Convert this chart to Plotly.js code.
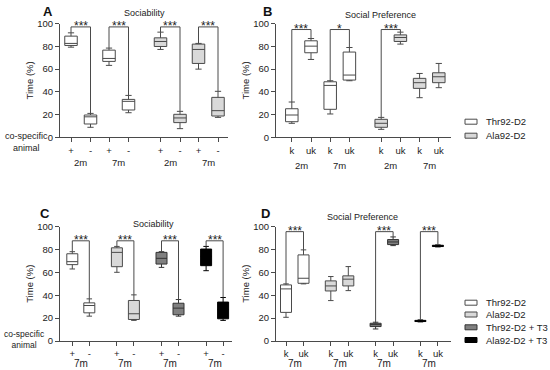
<!DOCTYPE html>
<html><head><meta charset="utf-8">
<script src="https://cdn.plot.ly/plotly-3.0.1.min.js"></script>
<style>html,body{margin:0;padding:0;background:#fff}#chart{width:550px;height:370px}</style>
</head><body><div id="chart"></div>
<script>
// Box statistics: [lowerfence, q1, median, q3, upperfence]
const seriesNames = ['Thr92-D2', 'Ala92-D2', 'Thr92-D2 + T3', 'Ala92-D2 + T3'];
const sidesSoc = ['+', '-'];
const sidesPref = ['k', 'uk'];
const agesAB = ['2m', '7m'];
const ageCD = '7m';

// Panel A – Sociability (order: 2m +, 2m -, 7m +, 7m -)
const A_thr = [[79.2, 80.7, 82.5, 88.9, 91.8], [8.8, 11.7, 18, 19.6, 21], [63.2, 66.7, 69.3, 76.6, 78.4], [21.6, 24, 31.6, 33.3, 36.8]];
const A_ala = [[77.2, 79.8, 84.2, 87.4, 92.4], [7.6, 12.9, 17, 20.2, 22.8], [59.9, 64.9, 77.2, 81.9, 82.5], [17.5, 18.7, 23.4, 35.1, 40.4]];
// Panel B – Social Preference (order: 2m k, 2m uk, 7m k, 7m uk)
const B_thr = [[12.3, 13.7, 19.6, 25.1, 31], [68.4, 74.3, 80.1, 84.8, 86.8], [20.5, 24.6, 45.6, 48.8, 49.7], [49.7, 50.3, 54.7, 74.9, 78.9]];
const B_ala = [[7, 8.8, 12.3, 15.8, 17.5], [81.9, 84.2, 87.7, 90, 92.4], [34.8, 43, 48, 51.8, 56.1], [43.6, 48, 53.2, 56.7, 64.9]];
// Panel C – Sociability at 7m (order: +, -)
const C_thr = [[62.9, 66.7, 69.3, 76.2, 78], [21.7, 24.6, 31, 33.3, 36.8]];
const C_ala = [[60, 64.9, 77.4, 81.4, 82.6], [18, 18.8, 23.8, 35.4, 40.3]];
const C_thrT3 = [[64.3, 67.2, 72.2, 77.4, 78], [21.7, 22.9, 28.7, 33, 36.2]];
const C_alaT3 = [[61.4, 65.8, 74, 80.3, 82.6], [18, 19.4, 27.5, 34, 38]];
// Panel D – Social Preference at 7m (order: k, uk)
const D_thr = [[20.7, 25, 45.5, 49, 49.9], [49.9, 50.4, 54.8, 75.2, 79.6]];
const D_ala = [[35.3, 43.7, 48.1, 52.5, 56.3], [44, 48.1, 54, 56.9, 65]];
const D_thrT3 = [[10.5, 12.6, 14.3, 15.5, 16.4], [83.3, 84.2, 86.5, 88.6, 90.9]];
const D_alaT3 = [[16.7, 17, 17.5, 18, 18.4], [82.2, 82.5, 83, 83.6, 83.9]];
// Significance brackets: [box a, box b, label] (box index in panel order)
const A_sig = [[0, 1, '***'], [2, 3, '***'], [4, 5, '***'], [6, 7, '***']];
const B_sig = [[0, 1, '***'], [2, 3, '*'], [4, 5, '***']];
const C_sig = [[0, 1, '***'], [2, 3, '***'], [4, 5, '***'], [6, 7, '***']];
const D_sig = [[0, 1, '***'], [4, 5, '***'], [6, 7, '***']];

// ---- styling / geometry ----
const W = 550, H = 370;
const FONT = 'Liberation Sans, Arial, sans-serif';
const TXT = '#222', LINE = '#4a4a4a';
const fills = ['#ffffff', '#d9d9d9', '#808080', '#000000'];
const lines = [LINE, LINE, '#333333', '#000000'];
const X = px => px / W, Y = py => 1 - py / H;
const C = {xanchor: 'center', yanchor: 'middle', showarrow: false};

const panels = [
  {key: '', letter: 'A', title: 'Sociability', px: [60, 228], py: [23.5, 137.3], off: 11, S: 19.5, P: 38, G: 89.5, bw: 12.5, sigY: 97,
   series: [A_thr, A_ala], sides: sidesSoc, ages: agesAB, sig: A_sig, letterPos: [48, 11], titlePos: [144, 13], agesY: 163},
  {key: '2', letter: 'B', title: 'Social Preference', px: [276, 451], py: [23.5, 137.3], off: 15.8, S: 19.2, P: 38.4, G: 89.4, bw: 12.5, sigY: 94.7,
   series: [B_thr, B_ala], sides: sidesPref, ages: agesAB, sig: B_sig, letterPos: [267, 11], titlePos: [380, 14.5], agesY: 165},
  {key: '3', letter: 'C', title: 'Sociability', px: [60, 232], py: [226.5, 341], off: 12.3, S: 17, P: 0, G: 44.6, bw: 11, sigY: 87.5,
   series: [C_thr, C_ala, C_thrT3, C_alaT3], sides: sidesSoc, ages: null, sig: C_sig, letterPos: [45, 213], titlePos: [153, 223.5], agesY: 363},
  {key: '4', letter: 'D', title: 'Social Preference', px: [276, 451], py: [226.5, 341], off: 10, S: 17.5, P: 0, G: 44.8, bw: 11, sigY: 95.5,
   series: [D_thr, D_ala, D_thrT3, D_alaT3], sides: sidesPref, ages: null, sig: D_sig, letterPos: [265, 213], titlePos: [362, 217], agesY: 363},
];

const traces = [], shapes = [], annotations = [];
const layout = {
  width: W, height: H, margin: {l: 0, r: 0, t: 0, b: 0},
  paper_bgcolor: '#fff', plot_bgcolor: 'rgba(0,0,0,0)',
  boxmode: 'overlay', showlegend: false,
  font: {family: FONT, color: TXT, size: 9},
  shapes, annotations
};

panels.forEach(p => {
  const xa = 'x' + p.key, ya = 'y' + p.key;
  const positions = [], ticktext = [], fences = [];
  p.series.forEach((ser, g) => {
    const xs = ser.map((_, i) => {
      const pair = p.ages ? Math.floor(i / 2) : 0;
      const side = i % 2;
      return p.off + g * p.G + pair * p.P + side * p.S;
    });
    xs.forEach((x, i) => { positions.push(x); ticktext.push(p.sides[i % 2]); fences.push([x, ser[i][4]]); });
    traces.push({
      type: 'box', xaxis: xa, yaxis: ya, x: xs,
      lowerfence: ser.map(s => s[0]), q1: ser.map(s => s[1]), median: ser.map(s => s[2]),
      q3: ser.map(s => s[3]), upperfence: ser.map(s => s[4]),
      width: p.bw, whiskerwidth: 0.5, boxpoints: false,
      fillcolor: fills[g], line: {color: lines[g], width: 1},
      name: seriesNames[g], hoverinfo: 'skip', showlegend: false
    });
    if (p.ages) {
      p.ages.forEach((age, k) => annotations.push(Object.assign({
        xref: xa, yref: 'paper', x: (xs[2 * k] + xs[2 * k + 1]) / 2, y: Y(p.agesY),
        text: age, font: {size: 9.5, family: FONT, color: TXT}}, C)));
    } else {
      annotations.push(Object.assign({
        xref: xa, yref: 'paper', x: (xs[0] + xs[1]) / 2, y: Y(p.agesY),
        text: ageCD, font: {size: 10, family: FONT, color: TXT}}, C));
    }
  });
  layout['xaxis' + p.key] = {
    domain: [X(p.px[0]), X(p.px[1])], range: [0, p.px[1] - p.px[0]], anchor: ya,
    showline: true, linecolor: LINE, linewidth: 1, showgrid: false, zeroline: false,
    ticks: 'outside', ticklen: 4, tickcolor: LINE, tickvals: positions, ticktext,
    tickfont: {size: 9.5, family: FONT, color: TXT}, fixedrange: true
  };
  layout['yaxis' + p.key] = {
    domain: [Y(p.py[1]), Y(p.py[0])], range: [0, 100], anchor: xa,
    showline: true, linecolor: LINE, linewidth: 1, showgrid: false, zeroline: false,
    ticks: 'outside', ticklen: 4, tickcolor: LINE, tickvals: [0, 20, 40, 60, 80, 100],
    tickfont: {size: 9.5, family: FONT, color: TXT}, fixedrange: true,
    title: {text: 'Time (%)', font: {size: 9.5, family: FONT, color: TXT}, standoff: 1}
  };
  p.sig.forEach(([a, b, lab]) => {
    const [xa1, ya1] = fences[a], [xb1, yb1] = fences[b];
    shapes.push({type: 'path', xref: xa, yref: ya,
      path: `M ${xa1},${ya1} L ${xa1},${p.sigY} L ${xb1},${p.sigY} L ${xb1},${yb1}`,
      line: {color: LINE, width: 1}});
    annotations.push({xref: xa, yref: ya, x: (xa1 + xb1) / 2, y: p.sigY, xanchor: 'center', yanchor: 'bottom', yshift: -8,
      text: lab, showarrow: false, font: {size: 12, family: FONT, color: TXT}});
  });
  annotations.push(Object.assign({xref: 'paper', yref: 'paper', x: X(p.letterPos[0]), y: Y(p.letterPos[1]),
    text: '<b>' + p.letter + '</b>', font: {size: 13, family: FONT, color: '#111'}}, C));
  annotations.push(Object.assign({xref: 'paper', yref: 'paper', x: X(p.titlePos[0]), y: Y(p.titlePos[1]),
    text: p.title, font: {size: 9, family: FONT, color: TXT}}, C));
});

// co-specific animal labels
annotations.push(Object.assign({xref: 'paper', yref: 'paper', x: X(26), y: Y(142.5), text: 'co-specific<br>animal',
  align: 'center', font: {size: 9, family: FONT, color: TXT}}, C));
annotations.push(Object.assign({xref: 'paper', yref: 'paper', x: X(24), y: Y(339.5), text: 'co-specific<br>animal',
  align: 'center', font: {size: 8.5, family: FONT, color: TXT}}, C));

// legends
function legend(names, ys) {
  names.forEach((n, i) => {
    shapes.push({type: 'rect', xref: 'paper', yref: 'paper', x0: X(465), x1: X(477), y0: Y(ys[i] + 2.5), y1: Y(ys[i] - 2.5),
      fillcolor: fills[i], line: {color: lines[i], width: 1}});
    annotations.push({xref: 'paper', yref: 'paper', x: X(484), y: Y(ys[i]), xanchor: 'left', yanchor: 'middle', text: n,
      showarrow: false, font: {size: 9.5, family: FONT, color: TXT}});
  });
}
legend(seriesNames.slice(0, 2), [121.7, 135.7]);
legend(seriesNames, [302.7, 314.5, 327.3, 340]);

Plotly.newPlot('chart', traces, layout, {staticPlot: true, displayModeBar: false});
</script></body></html>
